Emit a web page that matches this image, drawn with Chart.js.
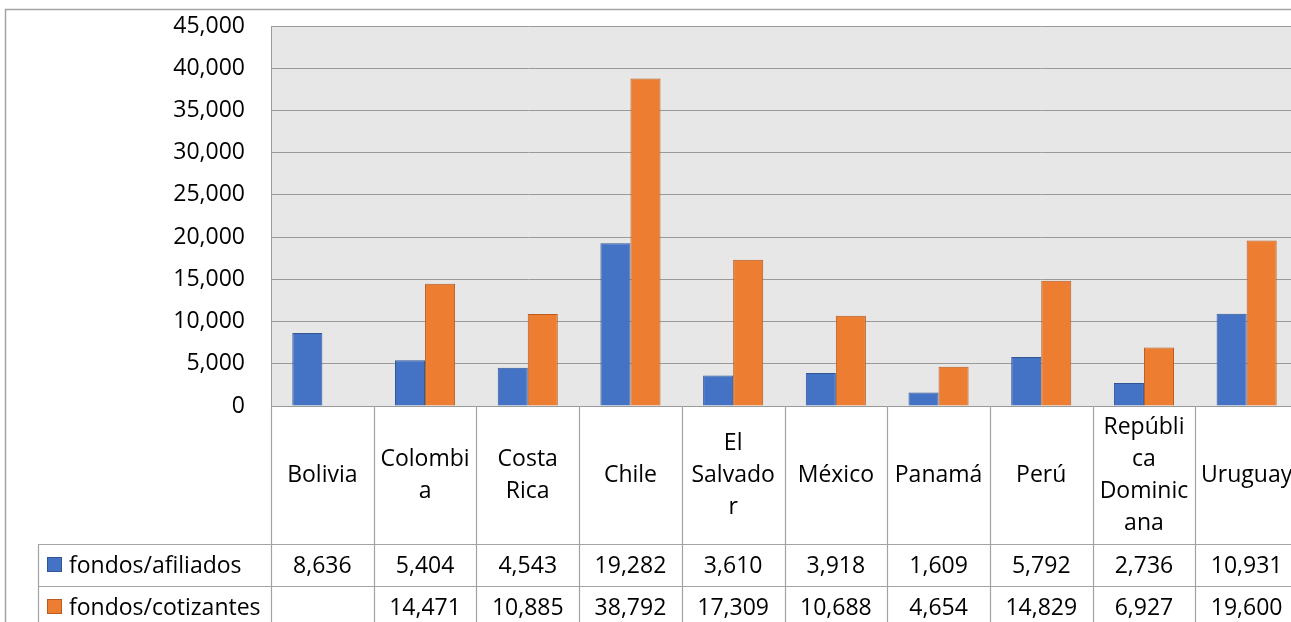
<!DOCTYPE html>
<html>
<head>
<meta charset="utf-8">
<script src="https://cdn.jsdelivr.net/npm/chart.js@4.4.1/dist/chart.umd.min.js"></script>
<style>
html,body{margin:0;padding:0;background:#fff;overflow:hidden;}
#wrap{position:absolute;left:0;top:0;width:1320px;height:622px;}
</style>
</head>
<body>
<div id="wrap"><canvas id="c" width="1320" height="622"></canvas></div>
<script>
const categories = ["Bolivia","Colombia","Costa Rica","Chile","El Salvador","México","Panamá","Perú","República Dominicana","Uruguay"];
const categoryLines = [["Bolivia"],["Colombi","a"],["Costa","Rica"],["Chile"],["El","Salvado","r"],["México"],["Panamá"],["Perú"],["Repúbli","ca","Dominic","ana"],["Uruguay"]];
const seriesNames = ["fondos/afiliados","fondos/cotizantes"];
const afiliados = [8636,5404,4543,19282,3610,3918,1609,5792,2736,10931];
const cotizantes = [null,14471,10885,38792,17309,10688,4654,14829,6927,19600];
const yTicks = [0,5000,10000,15000,20000,25000,30000,35000,40000,45000];

const FONT = '"Open Sans", sans-serif';
const FS = 23;
const LINE = '#a3a3a3';
const fmt = v => v == null ? '' : v.toLocaleString('en-US');

const tablePlugin = {
  id: 'tablePlugin',
  beforeDraw(chart) {
    const {ctx, chartArea: a} = chart;
    ctx.save();
    ctx.fillStyle = '#e7e7e7';
    ctx.fillRect(a.left, a.top, a.right - a.left, a.bottom - a.top);
    ctx.restore();
  },
  afterDraw(chart) {
    const {ctx, chartArea: a} = chart;
    const xs = chart.scales.x;
    const H = chart.height;
    const n = categories.length;
    const cw = (a.right - a.left) / n;
    const headerBottom = 544, row1Bottom = 586, row2Bottom = 628;
    const legendLeft = 38;
    ctx.save();
    // outer border
    ctx.strokeStyle = LINE; ctx.lineWidth = 1.5;
    ctx.strokeRect(5.5, 9.5, chart.width + 20, H + 20);
    // table lines
    ctx.strokeStyle = LINE; ctx.lineWidth = 1.2;
    ctx.beginPath();
    for (let i = 0; i <= n; i++) {
      const x = Math.round(a.left + i * cw) + 0.5;
      ctx.moveTo(x, a.bottom); ctx.lineTo(x, H);
    }
    [headerBottom, row1Bottom, row2Bottom].forEach(y => {
      ctx.moveTo(legendLeft, y + 0.5); ctx.lineTo(chart.width, y + 0.5);
    });
    ctx.moveTo(legendLeft + 0.5, headerBottom); ctx.lineTo(legendLeft + 0.5, H);
    ctx.stroke();
    // category labels
    ctx.fillStyle = '#000';
    ctx.font = FS + 'px ' + FONT;
    ctx.textAlign = 'center';
    ctx.textBaseline = 'middle';
    const hc = (a.bottom + headerBottom) / 2;
    const lh = 32;
    categories.forEach((c, i) => {
      const cx = xs.getPixelForValue(i);
      const lines = categoryLines[i];
      const y0 = hc - (lines.length - 1) * lh / 2;
      lines.forEach((t, k) => ctx.fillText(t, cx, y0 + k * lh));
    });
    // data rows
    const rows = [afiliados, cotizantes];
    const rowCenters = [(headerBottom + row1Bottom) / 2, (row1Bottom + row2Bottom) / 2];
    rows.forEach((r, ri) => {
      r.forEach((v, i) => {
        ctx.fillText(fmt(v), xs.getPixelForValue(i), rowCenters[ri] + 1);
      });
    });
    // legend keys
    ctx.textAlign = 'left';
    chart.data.datasets.forEach((ds, ri) => {
      const cy = rowCenters[ri];
      ctx.fillStyle = ds.backgroundColor;
      ctx.fillRect(47, cy - 8, 15, 15);
      ctx.strokeStyle = ds.borderColor; ctx.lineWidth = 1;
      ctx.strokeRect(47.5, cy - 7.5, 14, 14);
      ctx.fillStyle = '#000';
      ctx.fillText(seriesNames[ri], 69, cy + 1);
    });
    ctx.restore();
  }
};

new Chart(document.getElementById('c'), {
  type: 'bar',
  data: {
    labels: categories,
    datasets: [
      {label: seriesNames[0], data: afiliados, backgroundColor: '#4472c4', borderColor: '#2f5597', borderWidth: 1},
      {label: seriesNames[1], data: cotizantes, backgroundColor: '#ed7d31', borderColor: '#b85b1f', borderWidth: 1}
    ]
  },
  options: {
    responsive: false,
    animation: false,
    devicePixelRatio: 1,
    layout: {padding: {left: 0, top: 26, right: 22, bottom: 0}},
    datasets: {bar: {categoryPercentage: 0.585, barPercentage: 1.0}},
    plugins: {legend: {display: false}, tooltip: {enabled: false}},
    scales: {
      x: {
        grid: {display: false},
        border: {display: false},
        ticks: {display: false},
        afterFit(s) { s.height = 216; s.paddingLeft = 0; s.paddingRight = 0; }
      },
      y: {
        min: 0, max: 45000,
        afterBuildTicks(s) { s.ticks = yTicks.map(v => ({value: v})); },
        afterFit(s) { s.width = 271; s.paddingTop = 0; s.paddingBottom = 0; },
        grid: {color: '#9a9a9a', lineWidth: 1, drawTicks: false},
        border: {display: true, color: '#9a9a9a', width: 1},
        ticks: {
          padding: 26,
          color: '#000',
          font: {family: FONT, size: FS},
          callback: v => fmt(v)
        }
      }
    }
  },
  plugins: [tablePlugin]
});
</script>
</body>
</html>
